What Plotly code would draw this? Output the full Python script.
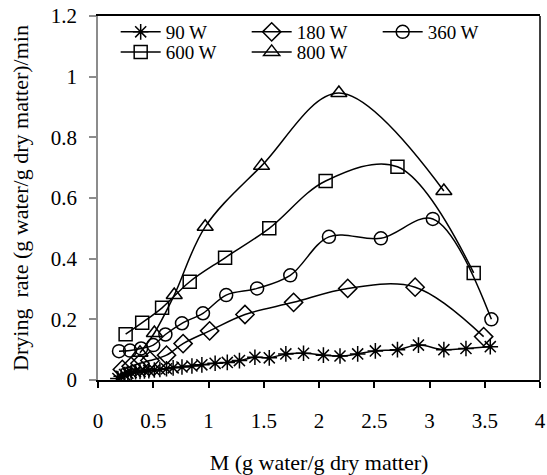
import plotly.graph_objects as go

# ---- data ----
x_90 = [0.18, 0.21, 0.24, 0.27, 0.30, 0.34, 0.38, 0.42, 0.46, 0.51, 0.56, 0.62, 0.68, 0.76,
        0.85, 0.94, 1.06, 1.17, 1.28, 1.42, 1.55, 1.70, 1.86, 2.04, 2.19, 2.35, 2.51, 2.71,
        2.90, 3.13, 3.33, 3.55]
y_90 = [0.005, 0.012, 0.018, 0.022, 0.025, 0.027, 0.028, 0.030, 0.031, 0.033, 0.035, 0.037,
        0.040, 0.043, 0.046, 0.050, 0.055, 0.058, 0.064, 0.075, 0.073, 0.086, 0.088, 0.082,
        0.079, 0.086, 0.096, 0.100, 0.115, 0.100, 0.104, 0.110]

x_180 = [0.22, 0.30, 0.38, 0.47, 0.62, 0.77, 1.01, 1.33, 1.77, 2.26, 2.87, 3.49]
y_180 = [0.035, 0.045, 0.055, 0.064, 0.082, 0.120, 0.162, 0.216, 0.256, 0.302, 0.306, 0.143]

x_360 = [0.19, 0.29, 0.39, 0.50, 0.61, 0.76, 0.95, 1.16, 1.44, 1.74, 2.09, 2.56, 3.03, 3.56]
y_360 = [0.095, 0.097, 0.104, 0.115, 0.150, 0.187, 0.220, 0.280, 0.302, 0.345, 0.472, 0.467,
         0.531, 0.200]

x_600 = [0.25, 0.40, 0.58, 0.83, 1.15, 1.55, 2.06, 2.71, 3.40]
y_600 = [0.151, 0.189, 0.238, 0.324, 0.403, 0.500, 0.656, 0.703, 0.353]

x_800 = [0.38, 0.51, 0.69, 0.97, 1.48, 2.18, 3.13]
y_800 = [0.090, 0.155, 0.280, 0.505, 0.706, 0.946, 0.623]

series = [
    ("90 W", x_90, y_90, "asterisk-open", 13, "legend"),
    ("180 W", x_180, y_180, "diamond-open", 14, "legend"),
    ("360 W", x_360, y_360, "circle-open", 13, "legend"),
    ("600 W", x_600, y_600, "square-open", 13, "legend2"),
    ("800 W", x_800, y_800, "triangle-up-open", 14, "legend2"),
]

x_ticks = [0, 0.5, 1, 1.5, 2, 2.5, 3, 3.5, 4]
y_ticks = [0, 0.2, 0.4, 0.6, 0.8, 1, 1.2]
y_ticktext = ["0", "0.2", "0.4", "0.6", "0.8", "1", "1.2"]

FONT = "Liberation Serif"

fig = go.Figure()
for name, xs, ys, sym, sz, lg in series:
    fig.add_trace(go.Scatter(
        x=xs, y=ys, name=name, mode="lines+markers", legend=lg,
        line=dict(color="black", width=1.5, shape="spline", smoothing=1),
        marker=dict(symbol=sym, size=sz, color="black", line=dict(color="black", width=1.5)),
    ))

legend_common = dict(
    orientation="h", xanchor="left", yanchor="middle",
    entrywidth=76, entrywidthmode="pixels",
    font=dict(family=FONT, size=19, color="black"),
    bgcolor="rgba(0,0,0,0)", tracegroupgap=0, itemwidth=40,
)

fig.update_layout(
    width=547, height=475,
    margin=dict(l=98, r=7, t=16, b=95, autoexpand=False),
    paper_bgcolor="white", plot_bgcolor="white",
    font=dict(family=FONT, color="black", size=20),
    showlegend=True,
    legend=dict(x=0.04, y=0.956, **legend_common),
    legend2=dict(x=0.04, y=0.901, **legend_common),
    xaxis=dict(
        range=[0, 4], tickvals=x_ticks, ticktext=[str(t) for t in x_ticks],
        showgrid=False, zeroline=False, automargin=False,
        showline=True, linecolor="black", linewidth=1.5, mirror=True,
        ticks="outside", ticklen=6, tickcolor="black", tickwidth=1.5,
        tickfont=dict(family=FONT, size=21), ticklabelstandoff=15,
        title=dict(text="M (g water/g dry matter)", font=dict(family=FONT, size=22), standoff=24),
    ),
    yaxis=dict(
        range=[0, 1.2], tickvals=y_ticks, ticktext=y_ticktext,
        showgrid=False, zeroline=False, automargin=False,
        showline=True, linecolor="#8c8c8c", linewidth=1.5,
        ticks="outside", ticklen=7, tickcolor="#8c8c8c", tickwidth=1.5,
        tickfont=dict(family=FONT, size=21), ticklabelstandoff=8,
        title=dict(text="Drying  rate (g water/g dry matter)/min", font=dict(family=FONT, size=22), standoff=16),
    ),
    shapes=[dict(type="line", xref="paper", yref="paper", x0=1, x1=1, y0=0, y1=1,
                 line=dict(color="black", width=1.5))],
)

fig.write_html("out.html")
